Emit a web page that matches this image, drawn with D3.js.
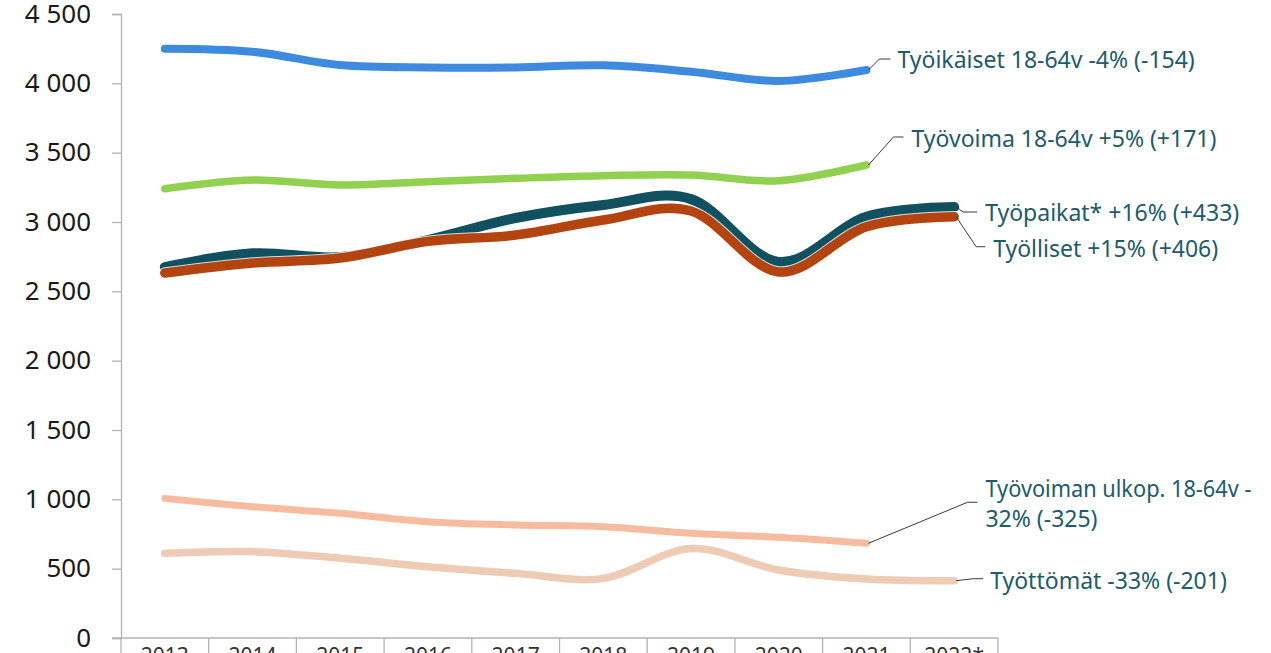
<!DOCTYPE html>
<html>
<head>
<meta charset="utf-8">
<script src="https://cdn.jsdelivr.net/npm/d3@7"></script>
<style>
  html, body { margin: 0; padding: 0; background: #fff; overflow: hidden; }
  svg { display: block; font-family: "Noto Sans", "Open Sans", sans-serif; }
</style>
</head>
<body>
<div id="chart"></div>
<script>
(function(){
  // values (thousands of persons, 2022* only for some series)
  const years = ['2013', '2014', '2015', '2016', '2017', '2018', '2019', '2020', '2021', '2022*'];

  const tyoikaiset   = [4250, 4228, 4132, 4115, 4115, 4130, 4084, 4017, 4096];
  const tyovoima     = [3240, 3303, 3267, 3291, 3315, 3334, 3339, 3298, 3411];
  const tyopaikat    = [2675, 2774, 2747, 2870, 3029, 3123, 3165, 2712, 3038, 3108];
  const tyolliset    = [2632, 2704, 2740, 2860, 2906, 3014, 3079, 2640, 2966, 3038];
  const ulkopuoliset = [1007, 947, 899, 839, 815, 803, 755, 726, 683];
  const tyottomat    = [611, 623, 575, 514, 466, 430, 645, 490, 425, 413];

  const yTicks = [0, 500, 1000, 1500, 2000, 2500, 3000, 3500, 4000, 4500];

  const width = 1271;
  const height = 653;

  const svg = d3.select('#chart')
    .append('svg')
    .attr('width', width)
    .attr('height', height);

  const x = d3.scaleBand()
    .domain(years)
    .range([121, 998])
    .padding(0);

  const y = d3.scaleLinear()
    .domain([0, 4500])
    .range([638, 14]);

  const fmt = d3.formatLocale({ decimal: ',', thousands: '\u00a0', grouping: [3], currency: ['', ''] }).format(',');

  // y axis
  const yAxis = svg.append('g')
    .attr('transform', 'translate(121,0)')
    .call(d3.axisLeft(y).tickValues(yTicks).tickSize(9).tickPadding(21).tickFormat(fmt));
  yAxis.select('.domain').attr('stroke', '#b3b3b3').attr('stroke-width', 1.3);
  yAxis.selectAll('.tick line').attr('stroke', '#b3b3b3').attr('stroke-width', 1.3);
  yAxis.selectAll('.tick text')
    .attr('fill', '#1a1a1a')
    .style('font-size', '26px')
    .style('font-family', '"Noto Sans", sans-serif');
  // axis line continues below the baseline
  svg.append('line')
    .attr('x1', 121).attr('x2', 121)
    .attr('y1', y(0)).attr('y2', height)
    .attr('stroke', '#b3b3b3').attr('stroke-width', 1.3);

  // x axis, table style
  const xAxis = svg.append('g')
    .attr('transform', 'translate(0,' + y(0) + ')');
  xAxis.append('line')
    .attr('x1', 112).attr('x2', x.range()[1])
    .attr('stroke', '#b3b3b3').attr('stroke-width', 1.3);
  xAxis.selectAll('.sep')
    .data(years.slice(1).concat(['end']))
    .enter().append('line')
    .attr('class', 'sep')
    .attr('x1', (d, i) => x.range()[0] + (i + 1) * x.bandwidth())
    .attr('x2', (d, i) => x.range()[0] + (i + 1) * x.bandwidth())
    .attr('y1', 0).attr('y2', 30)
    .attr('stroke', '#b3b3b3').attr('stroke-width', 1.3);
  xAxis.selectAll('.yl')
    .data(years)
    .enter().append('text')
    .attr('class', 'yl')
    .attr('x', d => x(d) + x.bandwidth() / 2)
    .attr('y', 25)
    .attr('text-anchor', 'middle')
    .attr('fill', '#333')
    .style('font-size', '21px')
    .text(d => d);

  const series = [
    { name: 'tyopaikat', values: tyopaikat, color: '#10505f', width: 10 },
    { name: 'tyolliset', values: tyolliset, color: '#b3440f', width: 9.5, halo: true },
    { name: 'tyoikaiset', values: tyoikaiset, color: '#3d8ade', width: 8 },
    { name: 'tyovoima', values: tyovoima, color: '#92d050', width: 7.5 },
    { name: 'ulkopuoliset', values: ulkopuoliset, color: '#f7bca0', width: 7 },
    { name: 'tyottomat', values: tyottomat, color: '#eecbb5', width: 7.5 }
  ];

  const cx = (d, i) => x(years[i]) + x.bandwidth() / 2;

  const line = d3.line()
    .x(cx)
    .y(d => y(d))
    .curve(d3.curveCatmullRom.alpha(0));

  series.forEach(s => {
    if (s.halo) {
      svg.append('path')
        .attr('d', line(s.values))
        .attr('fill', 'none')
        .attr('stroke', '#fff')
        .attr('stroke-width', s.width + 2)
        .attr('stroke-opacity', 0.8)
        .attr('stroke-linecap', 'round');
    }
    svg.append('path')
      .attr('class', 'line ' + s.name)
      .attr('d', line(s.values))
      .attr('fill', 'none')
      .attr('stroke', s.color)
      .attr('stroke-width', s.width)
      .attr('stroke-linecap', 'round')
      .attr('stroke-linejoin', 'round');
  });

  // data labels with leader lines (offsets from the last point)
  const labels = [
    { values: tyoikaiset, lines: ['Työikäiset 18-64v -4% (-154)'], elbow: [13, -11], end: [24, -11], text: [31, -11] },
    { values: tyovoima, lines: ['Työvoima 18-64v +5% (+171)'], elbow: [27, -28], end: [37, -28], text: [45, -27] },
    { values: tyopaikat, lines: ['Työpaikat* +16% (+433)'], elbow: [9, 5], end: [23, 5], text: [31, 5] },
    { values: tyolliset, lines: ['Työlliset +15% (+406)'], elbow: [22, 30], end: [31, 30], text: [39, 31] },
    { values: ulkopuoliset, lines: ['Työvoiman ulkop. 18-64v -', '32% (-325)'], elbow: [101, -41], end: [111, -41], text: [119, -55], fit: 266 },
    { values: tyottomat, lines: ['Työttömät -33% (-201)'], elbow: [19, -2], end: [29, -2], text: [36, -1] }
  ];

  labels.forEach(l => {
    const i = l.values.length - 1;
    const px = cx(null, i);
    const py = y(l.values[i]);
    svg.append('polyline')
      .attr('points', [[px + 2, py], [px + l.elbow[0], py + l.elbow[1]], [px + l.end[0], py + l.end[1]]].join(' '))
      .attr('fill', 'none')
      .attr('stroke', '#3a3a3a')
      .attr('stroke-width', 1);
    const t = svg.append('text')
      .attr('x', px + l.text[0])
      .attr('y', py + l.text[1])
      .attr('fill', '#215a6b')
      .style('font-size', '23px')
      .attr('dominant-baseline', 'central');
    l.lines.forEach((ln, k) => {
      const ts = t.append('tspan')
        .attr('x', px + l.text[0])
        .attr('dy', k === 0 ? 0 : 30)
        .text(ln);
      if (l.fit && k === 0) {
        ts.attr('textLength', l.fit).attr('lengthAdjust', 'spacingAndGlyphs');
      }
    });
  });
})();
</script>
</body>
</html>
